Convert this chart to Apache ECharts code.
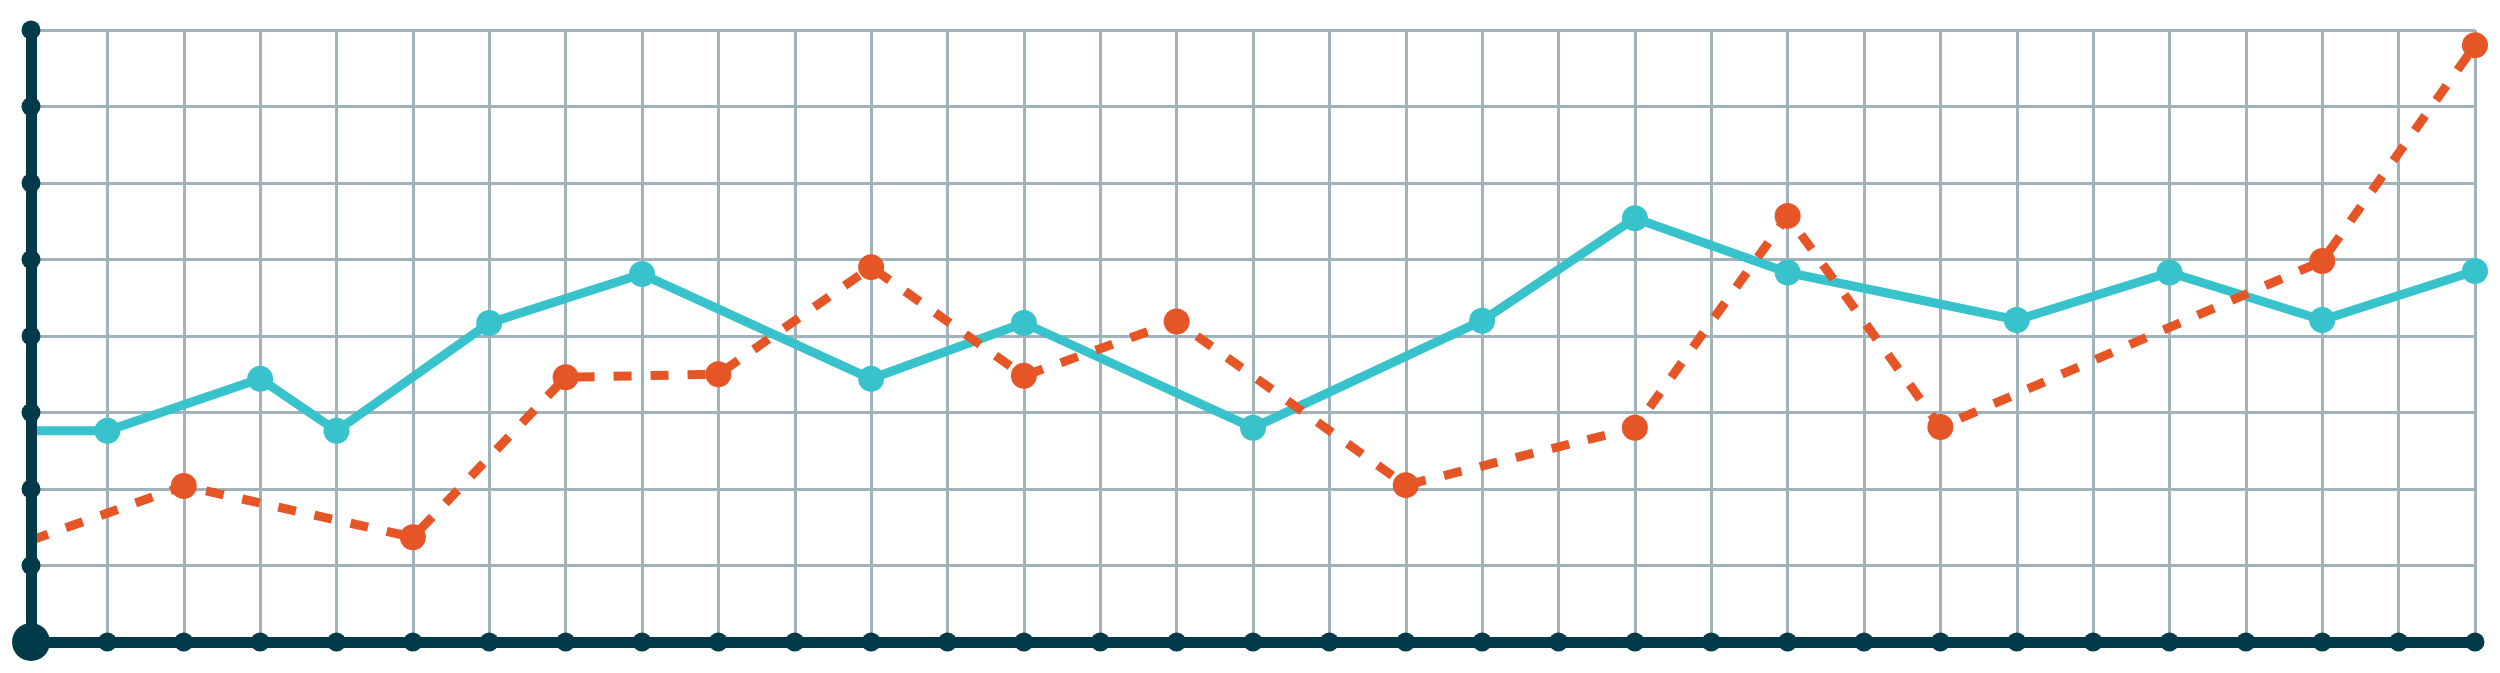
<!DOCTYPE html>
<html>
<head>
<meta charset="utf-8">
<script src="https://cdn.jsdelivr.net/npm/echarts@6/dist/echarts.min.js"></script>
<style>
  html, body { margin: 0; padding: 0; background: #ffffff; }
  #chart { width: 2500px; height: 673px; }
</style>
</head>
<body>
<div id="chart"></div>
<script>
// Data
const tealX = [0, 1, 3, 4, 6, 8, 11, 13, 16, 19, 21, 23, 26, 28, 30, 32];
const tealY = [2.76, 2.76, 3.44, 2.76, 4.17, 4.81, 3.44, 4.17, 2.80, 4.20, 5.54, 4.83, 4.21, 4.83, 4.21, 4.85];
const orangeX = [0, 2, 5, 7, 9, 11, 13, 15, 18, 21, 23, 25, 30, 32];
const orangeY = [1.33, 2.04, 1.37, 3.46, 3.50, 4.90, 3.48, 4.19, 2.05, 2.80, 5.57, 2.81, 4.98, 7.80];
const xTicks = [0, 1, 2, 3, 4, 5, 6, 7, 8, 9, 10, 11, 12, 13, 14, 15, 16, 17, 18, 19, 20, 21, 22, 23, 24, 25, 26, 27, 28, 29, 30, 31, 32];
const yTicks = [0, 1, 2, 3, 4, 5, 6, 7, 8];

const AXIS = '#033a4a';
const GRIDC = '#a0b3ba';
const TEAL = '#38c2cc';
const ORANGE = '#e65526';

function toData(xs, ys) {
  return xs.map((x, i) => i === 0 ? { value: [x, ys[i]], symbol: 'none' } : [x, ys[i]]);
}

const tickDots = [];
xTicks.forEach(x => { if (x !== 0) tickDots.push([x, 0]); });
yTicks.forEach(y => { if (y !== 0) tickDots.push([0, y]); });

const chart = echarts.init(document.getElementById('chart'), null, { renderer: 'canvas' });
const xBase = { type: 'value', min: xTicks[0], max: xTicks[xTicks.length - 1], interval: 1,
  axisLabel: { show: false }, axisTick: { show: false } };
const yBase = { type: 'value', min: yTicks[0], max: yTicks[yTicks.length - 1], interval: 1,
  axisLabel: { show: false }, axisTick: { show: false } };

chart.setOption({
  animation: false,
  backgroundColor: '#ffffff',
  grid: { left: 31, right: 25, top: 30, bottom: 31, containLabel: false },
  xAxis: [
    Object.assign({}, xBase, { position: 'bottom', z: 10,
      axisLine: { show: true, lineStyle: { color: AXIS, width: 11 } },
      splitLine: { show: false } }),
    Object.assign({}, xBase, { position: 'top', z: 0,
      axisLine: { show: false },
      splitLine: { show: true, lineStyle: { color: GRIDC, width: 3 } } })
  ],
  yAxis: [
    Object.assign({}, yBase, { position: 'left', z: 10,
      axisLine: { show: true, lineStyle: { color: AXIS, width: 11 } },
      splitLine: { show: false } }),
    Object.assign({}, yBase, { position: 'right', z: 0,
      axisLine: { show: false },
      splitLine: { show: true, lineStyle: { color: GRIDC, width: 3 } } })
  ],
  series: [
    {
      type: 'line', xAxisIndex: 0, yAxisIndex: 0, z: 3,
      data: toData(tealX, tealY),
      symbol: 'circle', symbolSize: 26, showAllSymbol: true,
      lineStyle: { color: TEAL, width: 9 },
      itemStyle: { color: TEAL, opacity: 1 },
      clip: false
    },
    {
      type: 'line', xAxisIndex: 0, yAxisIndex: 0, z: 4,
      data: toData(orangeX, orangeY),
      symbol: 'circle', symbolSize: 26, showAllSymbol: true,
      lineStyle: { color: ORANGE, width: 9, type: [18, 19] },
      itemStyle: { color: ORANGE, opacity: 1 },
      clip: false
    },
    {
      type: 'scatter', xAxisIndex: 0, yAxisIndex: 0, z: 20,
      data: tickDots, symbol: 'circle', symbolSize: 19,
      itemStyle: { color: AXIS, opacity: 1 }, clip: false, silent: true
    },
    {
      type: 'scatter', xAxisIndex: 0, yAxisIndex: 0, z: 21,
      data: [[xTicks[0], yTicks[0]]], symbol: 'circle', symbolSize: 38,
      itemStyle: { color: AXIS, opacity: 1 }, clip: false, silent: true
    }
  ]
});
</script>
</body>
</html>
